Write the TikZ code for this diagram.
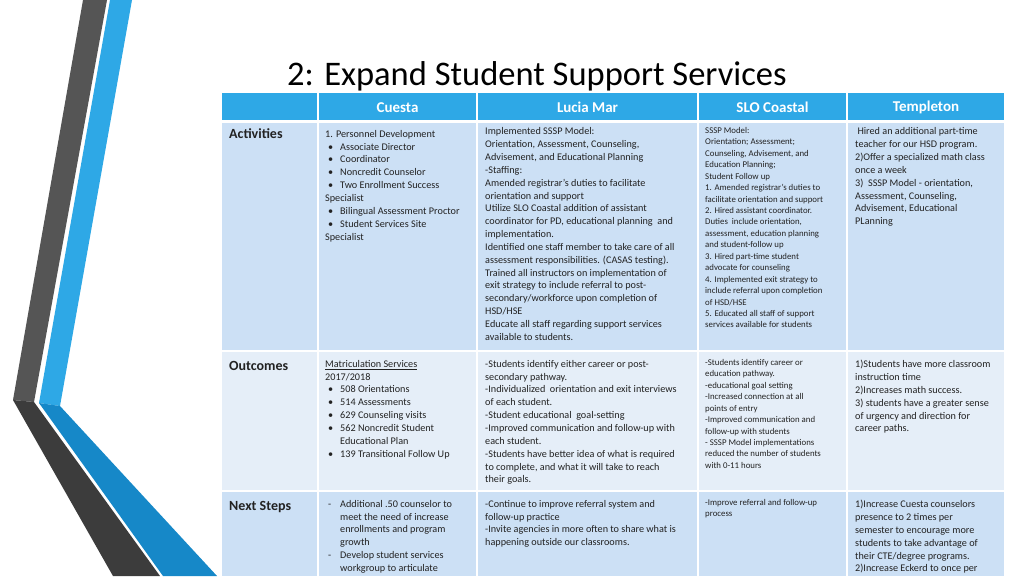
\documentclass[tikz,border=0pt]{standalone}
\usepackage{fontspec}
\setmainfont{Carlito}
\definecolor{hdr}{HTML}{2EA8E6}
\definecolor{rowa}{HTML}{CCE0F5}
\definecolor{rowb}{HTML}{E5EEF8}
\definecolor{dk}{HTML}{555555}
\definecolor{dk2}{HTML}{3C3C3C}
\definecolor{bl}{HTML}{2EA8E6}
\definecolor{bl2}{HTML}{1688C8}
\definecolor{txt}{HTML}{222222}
\newcommand{\bu}{\makebox[3pt]{}\makebox[12pt][l]{•}}
\newcommand{\ind}{\hspace*{15pt}}
\begin{document}
\begin{tikzpicture}[x=1pt,y=-1pt,
  cell/.style={anchor=north west,inner sep=0,align=left,text=txt},
  body/.style={cell,font=\fontsize{10.2}{12.85}\selectfont},
  small/.style={cell,font=\fontsize{8.8}{11.45}\selectfont},
  lab/.style={cell,font=\fontsize{14}{16}\selectfont\bfseries},
  hd/.style={text=white,font=\fontsize{15}{17}\selectfont\bfseries}]
\fill[white] (0,0) rectangle (1024,576);
% decorative bands
\fill[dk] (83,0) -- (107,0) -- (34,402) -- (13,400) -- cycle;
\fill[dk2] (13,400) -- (34,402) -- (160,576) -- (113,576) -- cycle;
\fill[bl] (110,0) -- (132,0) -- (60,406) -- (39,403) -- cycle;
\fill[bl2] (39,403) -- (60,406) -- (217,576) -- (163,576) -- cycle;
% title
\node[anchor=base west,inner sep=0,font=\fontsize{34.5}{38}\selectfont,text=black] (title) at (287,85) {2: Expand Student Support Services};
% header
\fill[hdr] (222,93) rectangle (1004,120);
\foreach \a/\b in {222/317,319/476,478/697,699/846,848/1004}{
  \fill[rowa] (\a,123) rectangle (\b,350);
  \fill[rowb] (\a,352) rectangle (\b,490);
  \fill[rowa] (\a,492) rectangle (\b,576);
}
\foreach \xx in {318,477,698,847}{\draw[white,line width=1.5pt] (\xx,93) -- (\xx,576);}
\node[hd] (h1) at (397.5,107.5) {Cuesta};
\node[hd] (h2) at (587.5,107.5) {Lucia Mar};
\node[hd] (h3) at (772.5,107.5) {SLO Coastal};
\node[hd] (h4) at (926,107.5) {Templeton};
\node[lab] (l1) at (229,128) {Activities};
\node[lab] (l2) at (229,361) {Outcomes};
\node[lab] (l3) at (229,501) {Next Steps};
% Activities
\node[body] (a1) at (325,130) {1. Personnel Development\\\bu Associate Director\\\bu Coordinator\\\bu Noncredit Counselor\\\bu Two Enrollment Success\\Specialist\\\bu Bilingual Assessment Proctor\\\bu Student Services Site\\Specialist};
\node[body] (a2) at (485,127.5) {Implemented SSSP Model:\\Orientation, Assessment, Counseling,\\Advisement, and Educational Planning\\-Staffing:\\Amended registrar’s duties to facilitate\\orientation and support\\Utilize SLO Coastal addition of assistant\\coordinator for PD, educational planning\ \ and\\implementation.\\Identified one staff member to take care of all\\assessment responsibilities. (CASAS testing).\\Trained all instructors on implementation of\\exit strategy to include referral to post-\\secondary/workforce upon completion of\\HSD/HSE\\Educate all staff regarding support services\\available to students.};
\node[small] (a3) at (705,127) {SSSP Model:\\Orientation; Assessment;\\Counseling, Advisement, and\\Education Planning;\\Student Follow up\\1. Amended registrar’s duties to\\facilitate orientation and support\\2. Hired assistant coordinator.\\Duties\ \ include orientation,\\assessment, education planning\\and student-follow up\\3. Hired part-time student\\advocate for counseling\\4. Implemented exit strategy to\\include referral upon completion\\of HSD/HSE\\5. Educated all staff of support\\services available for students};
\node[body] (a4) at (855,127.5) {\ Hired an additional part-time\\teacher for our HSD program.\\2)Offer a specialized math class\\once a week\\3)\ \ SSSP Model - orientation,\\Assessment, Counseling,\\Advisement, Educational\\PLanning};
% Outcomes
\node[body] (o1) at (325,360) {\underline{Matriculation Services}\\2017/2018\\\bu 508 Orientations\\\bu 514 Assessments\\\bu 629 Counseling visits\\\bu 562 Noncredit Student\\\ind Educational Plan\\\bu 139 Transitional Follow Up};
\node[body] (o2) at (485,360) {-Students identify either career or post-\\secondary pathway.\\-Individualized\ \ orientation and exit interviews\\of each student.\\-Student educational\ \ goal-setting\\-Improved communication and follow-up with\\each student.\\-Students have better idea of what is required\\to complete, and what it will take to reach\\their goals.};
\node[small] (o3) at (705,359) {-Students identify career or\\education pathway.\\-educational goal setting\\-Increased connection at all\\points of entry\\-Improved communication and\\follow-up with students\\- SSSP Model implementations\\reduced the number of students\\with 0-11 hours};
\node[body] (o4) at (855,360) {1)Students have more classroom\\instruction time\\2)Increases math success.\\3) students have a greater sense\\of urgency and direction for\\career paths.};
% Next steps
\node[body] (n1) at (325,500) {\makebox[3pt]{}\makebox[12pt][l]{-}Additional .50 counselor to\\\ind meet the need of increase\\\ind enrollments and program\\\ind growth\\\makebox[3pt]{}\makebox[12pt][l]{-}Develop student services\\\ind workgroup to articulate};
\node[body] (n2) at (485,500) {-Continue to improve referral system and\\follow-up practice\\-Invite agencies in more often to share what is\\happening outside our classrooms.};
\node[small] (n3) at (705,499) {-Improve referral and follow-up\\process};
\node[body] (n4) at (855,500) {1)Increase Cuesta counselors\\presence to 2 times per\\semester to encourage more\\students to take advantage of\\their CTE/degree programs.\\2)Increase Eckerd to once per};
\end{tikzpicture}
\end{document}
